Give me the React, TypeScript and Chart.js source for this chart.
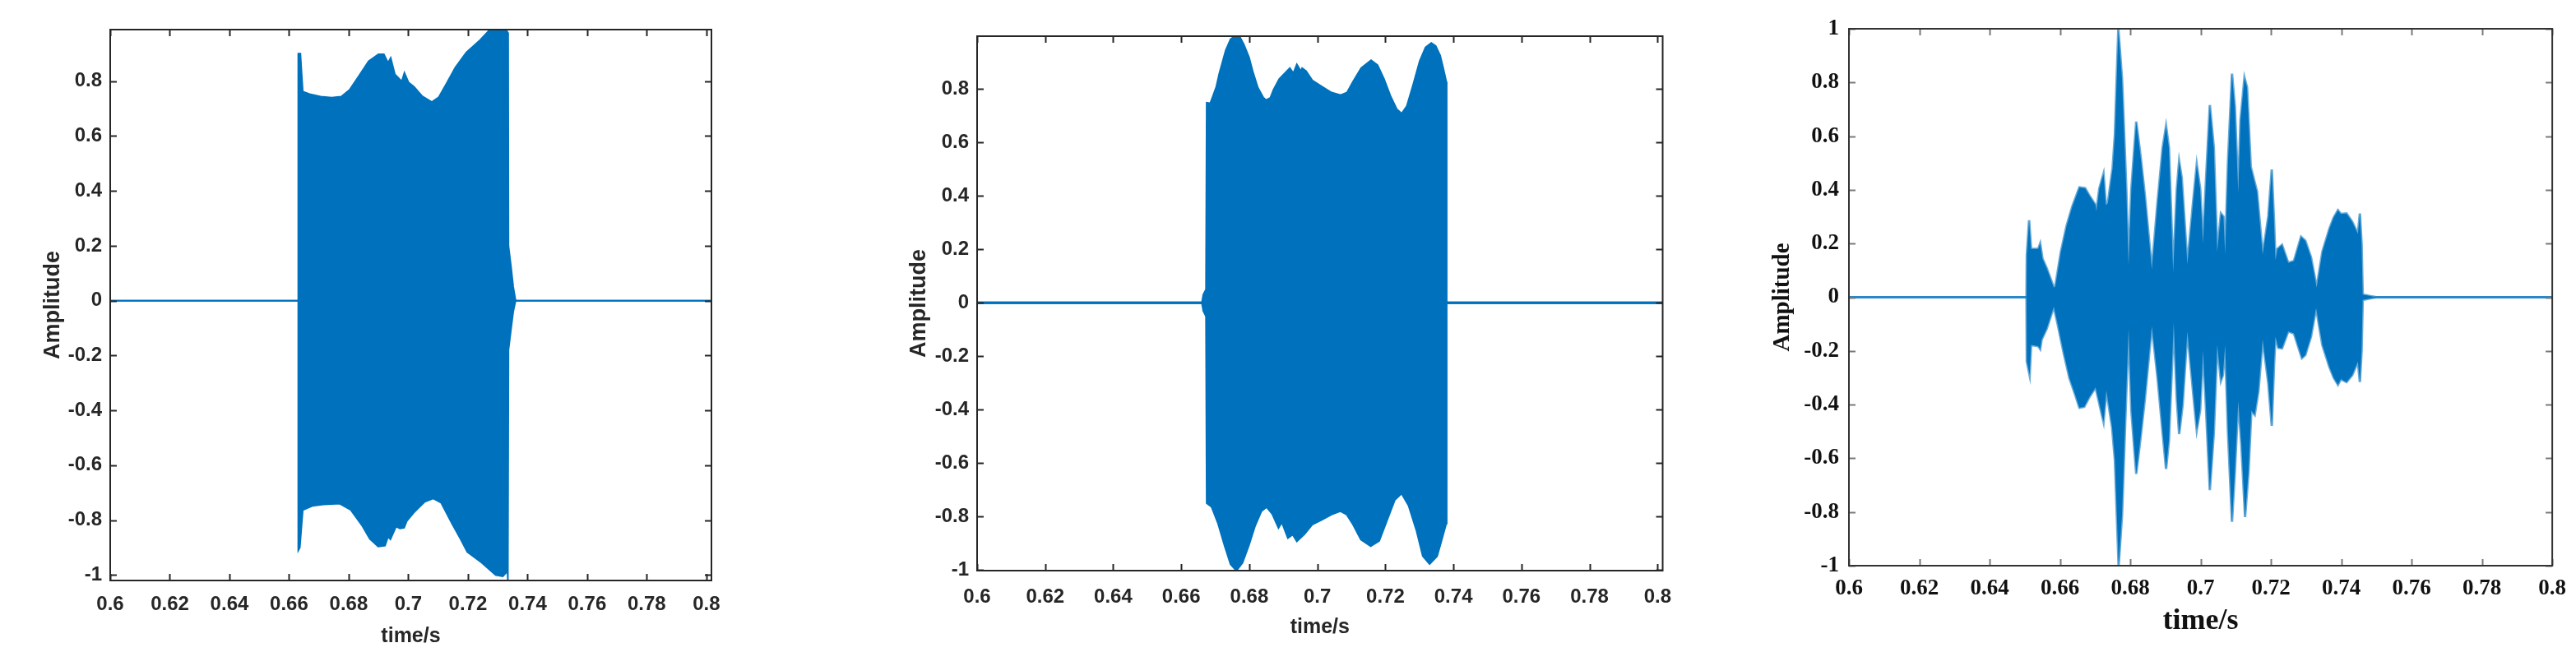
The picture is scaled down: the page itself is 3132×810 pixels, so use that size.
import React, { useEffect, useRef } from "react";
import Chart from "chart.js/auto";

type Pt = [number, number];

// ---------- Panel 1 : envelope of the first signal (time in s, amplitude) ----------
const p1Upper: Pt[] = [
  [0.6, 0], [0.6631, 0], [0.6631, 0.9], [0.6638, 0.9], [0.6641, 0.847], [0.6646, 0.762],
  [0.6669, 0.753], [0.6706, 0.744], [0.6743, 0.74], [0.6775, 0.744], [0.6803, 0.768],
  [0.6835, 0.82], [0.6867, 0.873], [0.69, 0.898], [0.6918, 0.898], [0.6932, 0.867],
  [0.6941, 0.885], [0.6955, 0.825], [0.6978, 0.799], [0.6987, 0.83], [0.7001, 0.795],
  [0.7019, 0.78], [0.7047, 0.745], [0.7079, 0.724], [0.7102, 0.741], [0.713, 0.795],
  [0.7158, 0.85], [0.7195, 0.905], [0.7241, 0.95], [0.7273, 0.987], [0.7328, 0.987],
  [0.7335, 0.975], [0.7336, 0.2], [0.7345, 0.12], [0.7352, 0.05], [0.736, 0], [0.8017, 0],
];
const p1Lower: Pt[] = [
  [0.6, 0], [0.6631, 0], [0.6631, -0.91], [0.6636, -0.9], [0.6646, -0.763], [0.6678, -0.748],
  [0.6715, -0.743], [0.677, -0.74], [0.6807, -0.763], [0.6844, -0.818], [0.6871, -0.868],
  [0.6899, -0.896], [0.6922, -0.893], [0.6932, -0.86], [0.694, -0.87], [0.6959, -0.823],
  [0.6972, -0.83], [0.6986, -0.828], [0.6995, -0.803], [0.7018, -0.773], [0.7055, -0.733],
  [0.7083, -0.721], [0.711, -0.736], [0.7147, -0.813], [0.7175, -0.868], [0.7198, -0.916],
  [0.7246, -0.955], [0.7293, -1.0], [0.7317, -1.005], [0.7333, -0.986], [0.7334, -1.02],
  [0.7336, -0.18], [0.7345, -0.1], [0.7352, -0.04], [0.736, 0], [0.8017, 0],
];

// ---------- Panel 2 ----------
const p2Upper: Pt[] = [
  [0.6, 0], [0.6662, 0], [0.6666, 0.03], [0.6674, 0.05], [0.6676, 0.747], [0.6686, 0.745],
  [0.6695, 0.776], [0.6704, 0.807], [0.6713, 0.858], [0.6723, 0.904], [0.6732, 0.945],
  [0.6746, 0.986], [0.6758, 0.997], [0.6771, 0.995], [0.6783, 0.966], [0.6798, 0.919],
  [0.6809, 0.866], [0.6824, 0.805], [0.684, 0.768], [0.6849, 0.757], [0.6863, 0.766],
  [0.6872, 0.796], [0.6889, 0.837], [0.6905, 0.858], [0.6919, 0.876], [0.693, 0.856],
  [0.694, 0.889], [0.6952, 0.863], [0.6956, 0.876], [0.6966, 0.866], [0.6984, 0.832],
  [0.7012, 0.809], [0.7041, 0.786], [0.7069, 0.776], [0.7088, 0.786], [0.7106, 0.827],
  [0.713, 0.878], [0.7158, 0.906], [0.7176, 0.889], [0.7195, 0.837], [0.7213, 0.776],
  [0.7232, 0.725], [0.7248, 0.706], [0.7264, 0.735], [0.7283, 0.817], [0.7302, 0.904],
  [0.7319, 0.955], [0.7335, 0.971], [0.7347, 0.96], [0.736, 0.925], [0.7369, 0.878],
  [0.7378, 0.827], [0.7379, 0], [0.8015, 0],
];
const p2Lower: Pt[] = [
  [0.6, 0], [0.6662, 0], [0.6666, -0.03], [0.6674, -0.05], [0.6676, -0.749], [0.669, -0.762],
  [0.6709, -0.824], [0.6728, -0.906], [0.6746, -0.977], [0.6762, -1.0], [0.6779, -0.972],
  [0.6798, -0.906], [0.6816, -0.834], [0.6835, -0.778], [0.6851, -0.762], [0.6868, -0.788],
  [0.6886, -0.839], [0.6896, -0.818], [0.6914, -0.878], [0.6928, -0.865], [0.694, -0.89],
  [0.6961, -0.865], [0.6984, -0.829], [0.7012, -0.811], [0.7041, -0.791], [0.7068, -0.778],
  [0.7087, -0.791], [0.7106, -0.829], [0.7129, -0.885], [0.7157, -0.909], [0.7181, -0.89],
  [0.7204, -0.813], [0.7227, -0.736], [0.7248, -0.711], [0.7269, -0.757], [0.7293, -0.854],
  [0.7311, -0.947], [0.733, -0.975], [0.7351, -0.947], [0.7367, -0.875], [0.7378, -0.824],
  [0.7379, 0], [0.8015, 0],
];

// ---------- Panel 3 ----------
const p3Upper: Pt[] = [
  [0.6, 0], [0.6505, 0], [0.65059, 0.156], [0.65123, 0.287], [0.6518, 0.18], [0.65382, 0.18],
  [0.65438, 0.2], [0.65503, 0.144], [0.65624, 0.108], [0.65826, 0.036], [0.65867, 0.04],
  [0.66028, 0.169], [0.6619, 0.266], [0.66352, 0.338], [0.66554, 0.409], [0.66715, 0.406],
  [0.66836, 0.379], [0.67014, 0.343], [0.67038, 0.32], [0.67119, 0.404], [0.6724, 0.46],
  [0.67305, 0.343], [0.67362, 0.35], [0.67499, 0.481], [0.67564, 0.608], [0.67661, 0.998],
  [0.67766, 0.813], [0.67887, 0.404], [0.67952, 0.118], [0.68032, 0.404], [0.6817, 0.654],
  [0.68291, 0.527], [0.68412, 0.384], [0.68614, 0.103], [0.68776, 0.353], [0.68921, 0.557],
  [0.69018, 0.637], [0.69099, 0.557], [0.6922, 0.093], [0.69325, 0.404], [0.6939, 0.506],
  [0.69463, 0.445], [0.69624, 0.123], [0.69786, 0.353], [0.69891, 0.494], [0.69988, 0.404],
  [0.70069, 0.2], [0.70149, 0.425], [0.70263, 0.716], [0.70376, 0.557], [0.70473, 0.169],
  [0.70578, 0.312], [0.70651, 0.3], [0.70699, 0.16], [0.7078, 0.506], [0.70893, 0.833],
  [0.70974, 0.71], [0.71071, 0.389], [0.71135, 0.659], [0.71248, 0.818], [0.71321, 0.782],
  [0.71426, 0.486], [0.71523, 0.435], [0.71604, 0.394], [0.71766, 0.159], [0.71927, 0.302],
  [0.72024, 0.476], [0.72089, 0.28], [0.72129, 0.138], [0.72186, 0.18], [0.72315, 0.195],
  [0.72493, 0.128], [0.72655, 0.135], [0.72857, 0.225], [0.72978, 0.21], [0.73139, 0.149],
  [0.73301, 0.036], [0.73463, 0.169], [0.73665, 0.256], [0.73786, 0.297], [0.73907, 0.324],
  [0.73988, 0.31], [0.7415, 0.312], [0.74311, 0.281], [0.74473, 0.236], [0.74529, 0.312],
  [0.74578, 0.2], [0.7461, 0.01], [0.748, 0.005], [0.75, 0], [0.8, 0],
];
const p3Lower: Pt[] = [
  [0.6, 0], [0.6505, 0], [0.65059, -0.239], [0.65139, -0.29], [0.6518, -0.178], [0.65382, -0.182],
  [0.65438, -0.193], [0.65479, -0.158], [0.65624, -0.117], [0.65826, -0.035], [0.65947, -0.107],
  [0.66109, -0.209], [0.66271, -0.301], [0.66432, -0.362], [0.66554, -0.411], [0.66691, -0.408],
  [0.66836, -0.372], [0.67014, -0.336], [0.6724, -0.464], [0.67321, -0.347], [0.67483, -0.484],
  [0.67564, -0.607], [0.67669, -1.0], [0.67766, -0.811], [0.67846, -0.505], [0.67952, -0.117],
  [0.68032, -0.423], [0.6817, -0.658], [0.68291, -0.525], [0.68412, -0.382], [0.68614, -0.107],
  [0.68776, -0.3], [0.68921, -0.505], [0.69018, -0.64], [0.69099, -0.534], [0.69236, -0.096],
  [0.69325, -0.382], [0.6939, -0.51], [0.69487, -0.403], [0.69624, -0.127], [0.69786, -0.352],
  [0.69891, -0.495], [0.69988, -0.42], [0.70069, -0.198], [0.70149, -0.4], [0.70263, -0.719],
  [0.70376, -0.505], [0.70473, -0.178], [0.70578, -0.311], [0.70634, -0.29], [0.70699, -0.178],
  [0.7078, -0.505], [0.70893, -0.837], [0.70974, -0.65], [0.71071, -0.387], [0.7116, -0.55],
  [0.71265, -0.819], [0.71362, -0.65], [0.71443, -0.423], [0.71539, -0.438], [0.71644, -0.35],
  [0.71766, -0.158], [0.71927, -0.321], [0.72024, -0.479], [0.72089, -0.25], [0.72129, -0.147],
  [0.7221, -0.188], [0.72315, -0.19], [0.72493, -0.127], [0.72655, -0.135], [0.72881, -0.227],
  [0.72978, -0.215], [0.73139, -0.147], [0.73285, -0.04], [0.73463, -0.178], [0.73665, -0.26],
  [0.73786, -0.3], [0.73907, -0.326], [0.73988, -0.305], [0.7415, -0.316], [0.74311, -0.29],
  [0.74473, -0.24], [0.74529, -0.316], [0.74578, -0.2], [0.7461, -0.01], [0.748, -0.005],
  [0.75, 0], [0.8, 0],
];

// ---------- Ticks ----------
const xTickValues = [0.6, 0.62, 0.64, 0.66, 0.68, 0.7, 0.72, 0.74, 0.76, 0.78, 0.8];
const xTickLabels = ["0.6", "0.62", "0.64", "0.66", "0.68", "0.7", "0.72", "0.74", "0.76", "0.78", "0.8"];
const yTickValuesA = [-1, -0.8, -0.6, -0.4, -0.2, 0, 0.2, 0.4, 0.6, 0.8];
const yTickLabelsA = ["-1", "-0.8", "-0.6", "-0.4", "-0.2", "0", "0.2", "0.4", "0.6", "0.8"];
const yTickValuesB = [-1, -0.8, -0.6, -0.4, -0.2, 0, 0.2, 0.4, 0.6, 0.8, 1];
const yTickLabelsB = ["-1", "-0.8", "-0.6", "-0.4", "-0.2", "0", "0.2", "0.4", "0.6", "0.8", "1"];

const xTitle = "time/s";
const yTitle = "Amplitude";

const SANS = 'Arial, "Liberation Sans", sans-serif';
const SERIF = '"Times New Roman", "Liberation Serif", serif';

const boxPlugin = {
  id: "matlabBox",
  afterDraw(chart: any, _args: any, opts: any) {
    const { ctx, chartArea: a, scales } = chart;
    const L = opts.tickLen;
    ctx.save();
    ctx.strokeStyle = opts.tickColor;
    ctx.lineWidth = opts.tickWidth;
    ctx.beginPath();
    for (const t of scales.x.ticks) {
      const px = Math.round(scales.x.getPixelForValue(t.value)) + 0.5;
      ctx.moveTo(px, a.bottom); ctx.lineTo(px, a.bottom - L);
      ctx.moveTo(px, a.top); ctx.lineTo(px, a.top + L);
    }
    for (const t of scales.y.ticks) {
      const py = Math.round(scales.y.getPixelForValue(t.value)) + 0.5;
      ctx.moveTo(a.left, py); ctx.lineTo(a.left + L, py);
      ctx.moveTo(a.right, py); ctx.lineTo(a.right - L, py);
    }
    ctx.stroke();
    ctx.strokeStyle = opts.color;
    ctx.lineWidth = opts.lineWidth;
    ctx.strokeRect(a.left, a.top, a.right - a.left, a.bottom - a.top);
    ctx.restore();
  },
};

type PanelCfg = {
  left: number; width: number;
  plotLeft: number; plotRight: number; plotTop: number; plotBottom: number;
  xMin: number; xMax: number; yMin: number; yMax: number;
  upper: Pt[]; lower: Pt[];
  yTicks: number[]; yLabels: string[];
  family: string; tickSize: number; xTitleSize: number; yTitleSize: number;
  xTickPad: number; yTickPad: number; xTitlePad: number; yTitlePad: number;
  textColor: string; lineColor: string; lineWidth: number; boxColor: string; tickColor: string;
};

const fillColor = "#0072BD";

function Panel({ cfg }: { cfg: PanelCfg }) {
  const ref = useRef<HTMLCanvasElement | null>(null);
  useEffect(() => {
    const H = 810;
    const pick = (vals: number[], labels: string[]) => (v: number) => {
      const i = vals.findIndex((t) => Math.abs(t - v) < 1e-9);
      return i >= 0 ? labels[i] : "";
    };
    const chart = new Chart(ref.current as HTMLCanvasElement, {
      type: "line",
      data: {
        datasets: [
          {
            data: cfg.upper.map(([x, y]) => ({ x, y })),
            borderColor: cfg.lineColor, borderWidth: cfg.lineWidth,
            pointRadius: 0, tension: 0, fill: false,
          },
          {
            data: cfg.lower.map(([x, y]) => ({ x, y })),
            borderColor: cfg.lineColor, borderWidth: cfg.lineWidth,
            pointRadius: 0, tension: 0, fill: "-1", backgroundColor: fillColor,
          },
        ],
      },
      options: {
        animation: false,
        responsive: false,
        devicePixelRatio: 1,
        layout: { padding: { left: 0, top: cfg.plotTop, right: cfg.width - cfg.plotRight, bottom: 0 } },
        plugins: {
          legend: { display: false },
          tooltip: { enabled: false },
          matlabBox: { tickLen: 8, tickWidth: 2, tickColor: cfg.tickColor, color: cfg.boxColor, lineWidth: 2 },
        } as any,
        scales: {
          x: {
            type: "linear", min: cfg.xMin, max: cfg.xMax,
            grid: { display: false, drawTicks: false },
            border: { display: false },
            afterBuildTicks: (s: any) => { s.ticks = xTickValues.map((v) => ({ value: v })); },
            afterFit: (s: any) => { s.height = H - cfg.plotBottom; },
            ticks: {
              autoSkip: false, maxRotation: 0, includeBounds: false,
              padding: cfg.xTickPad, color: cfg.textColor,
              font: { family: cfg.family, size: cfg.tickSize, weight: "bold" },
              callback: (v: any) => pick(xTickValues, xTickLabels)(Number(v)),
            },
            title: {
              display: true, text: xTitle, color: cfg.textColor,
              font: { family: cfg.family, size: cfg.xTitleSize, weight: "bold" },
              padding: { top: 0, bottom: cfg.xTitlePad },
            },
          },
          y: {
            type: "linear", min: cfg.yMin, max: cfg.yMax,
            grid: { display: false, drawTicks: false },
            border: { display: false },
            afterBuildTicks: (s: any) => { s.ticks = cfg.yTicks.map((v) => ({ value: v })); },
            afterFit: (s: any) => { s.width = cfg.plotLeft - cfg.left; },
            ticks: {
              autoSkip: false, includeBounds: false,
              padding: cfg.yTickPad, color: cfg.textColor,
              font: { family: cfg.family, size: cfg.tickSize, weight: "bold" },
              callback: (v: any) => pick(cfg.yTicks, cfg.yLabels)(Number(v)),
            },
            title: {
              display: true, text: yTitle, color: cfg.textColor,
              font: { family: cfg.family, size: cfg.yTitleSize, weight: "bold" },
              padding: { top: cfg.yTitlePad, bottom: 0 },
            },
          },
        },
      },
      plugins: [boxPlugin],
    } as any);
    return () => chart.destroy();
  }, [cfg]);
  return (
    <canvas
      ref={ref}
      width={cfg.width}
      height={810}
      style={{ position: "absolute", left: cfg.left, top: 0, width: cfg.width, height: 810 }}
    />
  );
}

const panels: PanelCfg[] = [
  {
    left: 0, width: 1000, plotLeft: 134, plotRight: 865, plotTop: 36, plotBottom: 706,
    xMin: 0.6, xMax: 0.8017, yMin: -1.02, yMax: 0.988, upper: p1Upper, lower: p1Lower,
    yTicks: yTickValuesA, yLabels: yTickLabelsA, family: SANS, tickSize: 24, xTitleSize: 25, yTitleSize: 27,
    xTickPad: 15, yTickPad: 10, xTitlePad: 21, yTitlePad: 48,
    textColor: "#262626", lineColor: fillColor, lineWidth: 2, boxColor: "#262626", tickColor: "#262626",
  },
  {
    left: 1000, width: 1050, plotLeft: 1188, plotRight: 1908, plotTop: 44, plotBottom: 694,
    xMin: 0.6, xMax: 0.8015, yMin: -1.002, yMax: 0.998, upper: p2Upper, lower: p2Lower,
    yTicks: yTickValuesA, yLabels: yTickLabelsA, family: SANS, tickSize: 24, xTitleSize: 25, yTitleSize: 27,
    xTickPad: 18, yTickPad: 10, xTitlePad: 32, yTitlePad: 101,
    textColor: "#262626", lineColor: fillColor, lineWidth: 3, boxColor: "#262626", tickColor: "#262626",
  },
  {
    left: 2050, width: 1082, plotLeft: 2248, plotRight: 3074, plotTop: 35, plotBottom: 688,
    xMin: 0.6, xMax: 0.8, yMin: -1, yMax: 1, upper: p3Upper, lower: p3Lower,
    yTicks: yTickValuesB, yLabels: yTickLabelsB, family: SERIF, tickSize: 27, xTitleSize: 36, yTitleSize: 29,
    xTickPad: 12, yTickPad: 12, xTitlePad: 33, yTitlePad: 100,
    textColor: "#111111", lineColor: "rgba(0,114,189,0.6)", lineWidth: 3, boxColor: "#333333", tickColor: "#7a7a7a",
  },
];

export default function App() {
  useEffect(() => {
    document.body.style.margin = "0";
    document.body.style.background = "#ffffff";
  }, []);
  return (
    <div style={{ position: "relative", width: 3132, height: 810, background: "#fff", overflow: "hidden" }}>
      {panels.map((p, i) => (
        <Panel key={i} cfg={p} />
      ))}
    </div>
  );
}
